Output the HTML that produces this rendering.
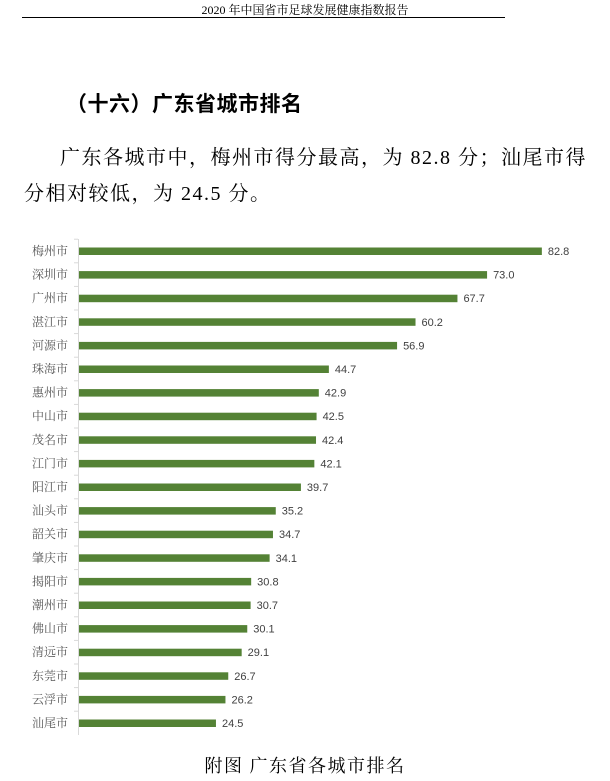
<!DOCTYPE html>
<html><head><meta charset="utf-8"><style>
body{margin:0;width:610px;height:781px;background:#fff;position:relative;overflow:hidden;font-family:"Liberation Serif","Noto Serif CJK SC",serif;color:#000}
.a{position:absolute;white-space:nowrap}
</style></head><body>
<div class="a" style="left:0;width:610px;top:1px;text-align:center;font-size:12px">2020 年中国省市足球发展健康指数报告</div>
<div class="a" style="left:22px;top:17px;width:483px;height:1px;background:#000"></div>
<div class="a" style="left:66px;top:88px;font-size:21px;letter-spacing:0.5px;font-weight:bold;font-family:'Liberation Sans','Noto Sans CJK SC',sans-serif">（十六）广东省城市排名</div>
<div class="a" style="left:60px;top:141px;font-size:20px;letter-spacing:1.5px">广东各城市中，梅州市得分最高，为 82.8 分；汕尾市得</div>
<div class="a" style="left:24px;top:177px;font-size:20px;letter-spacing:1.5px">分相对较低，为 24.5 分。</div>
<svg class="a" style="left:0;top:0" width="610" height="781">
<line x1="78.5" y1="239" x2="78.5" y2="735" stroke="#d9d9d9"/>
<g id="bars" font-family="Liberation Sans,Noto Sans CJK SC,sans-serif" font-size="11"></g>
</svg>
<div class="a" style="left:0;width:610px;top:752px;text-align:center;font-size:18px;letter-spacing:1.5px">附图 广东省各城市排名</div>
<script>
var d=[["梅州市",82.8],["深圳市",73.0],["广州市",67.7],["湛江市",60.2],["河源市",56.9],["珠海市",44.7],["惠州市",42.9],["中山市",42.5],["茂名市",42.4],["江门市",42.1],["阳江市",39.7],["汕头市",35.2],["韶关市",34.7],["肇庆市",34.1],["揭阳市",30.8],["潮州市",30.7],["佛山市",30.1],["清远市",29.1],["东莞市",26.7],["云浮市",26.2],["汕尾市",24.5]];
var s="";d.forEach(function(r,i){var y=251+i*23.6,w=r[1]*5.59;
s+='<line x1="74" x2="78" y1="'+(y-11.8)+'" y2="'+(y-11.8)+'" stroke="#d9d9d9"/>';
s+='<rect x="79" y="'+(y-3.5)+'" width="'+w+'" height="7.5" fill="#548235"/>';
s+='<text x="68" y="'+(y+4)+'" text-anchor="end" fill="#595959" font-family="Liberation Serif,Noto Serif CJK SC,serif" font-size="12">'+r[0]+'</text>';
s+='<text x="'+(79+w+6)+'" y="'+(y+4)+'" fill="#404040">'+r[1].toFixed(1)+'</text>';});
document.getElementById("bars").innerHTML=s;
</script>
</body></html>
